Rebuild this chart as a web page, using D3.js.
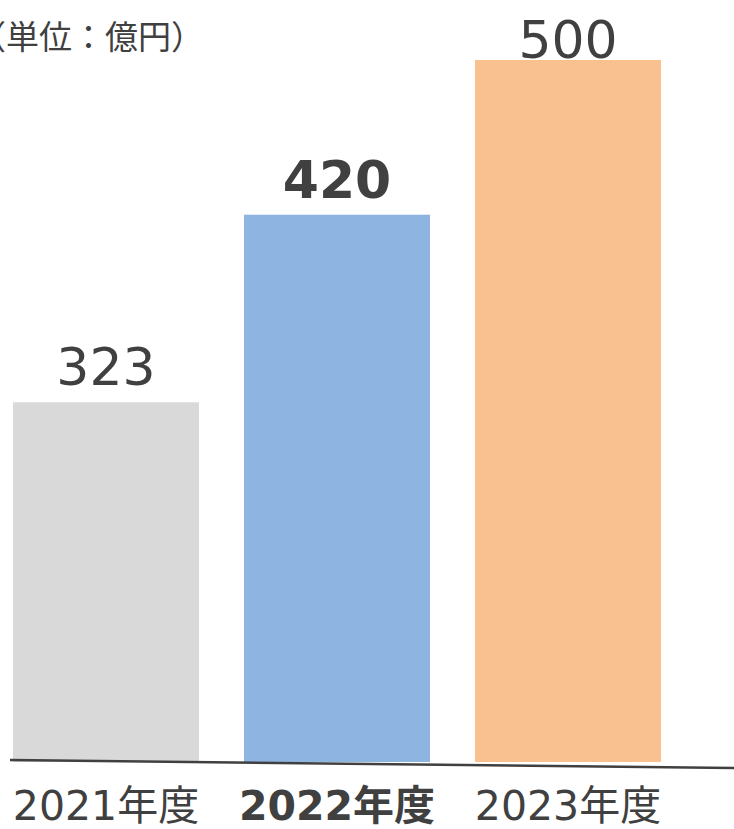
<!DOCTYPE html>
<meta charset="utf-8">
<style>
  body { margin: 0; background: #fff; }
  svg { display: block; }
  .lbl, .val { fill: #404040; font-family: "DejaVu Sans", "Noto Sans CJK JP", sans-serif; }
  .unit { fill: #404040; font-family: "Noto Sans CJK JP", sans-serif; font-size: 33px; }
</style>
<svg width="734" height="829"></svg>
<script src="https://cdn.jsdelivr.net/npm/d3@7"></script>
<script>
// data
var years = ["2021年度", "2022年度", "2023年度"];
var sales = [323, 420, 500];
var barColors = ["#d9d9d9", "#8eb4e2", "#f9c090"];
var focusYear = "2022年度";
var unitText = "（単位：億円）";

var svg = d3.select("svg");

var x = d3.scaleBand()
    .domain(years)
    .range([13, 661])
    .paddingInner(0.195)
    .paddingOuter(0);

// axis does not start at zero in the original slide
var y = d3.scaleLinear()
    .domain([137, 500])
    .range([762, 60]);

var rows = years.map(function(k, i) { return {year: k, value: sales[i], color: barColors[i]}; });

svg.append("g")
  .selectAll("rect")
  .data(rows)
  .enter().append("rect")
    .attr("x", function(d) { return x(d.year); })
    .attr("y", function(d) { return y(d.value); })
    .attr("width", x.bandwidth())
    .attr("height", function(d) { return y.range()[0] - y(d.value); })
    .attr("fill", function(d) { return d.color; });

// value labels, kept inside the frame at the top
svg.append("g")
  .selectAll("text")
  .data(rows)
  .enter().append("text")
    .attr("class", "val")
    .attr("x", function(d) { return x(d.year) + x.bandwidth() / 2; })
    .attr("y", function(d) { return Math.max(y(d.value) - 17, 58); })
    .attr("text-anchor", "middle")
    .attr("font-size", "52px")
    .attr("font-weight", function(d) { return d.year === focusYear ? "bold" : "normal"; })
    .text(function(d) { return d.value; });

// slightly tilted base line
var y0 = y.range()[0];
svg.append("line")
    .attr("x1", 10).attr("y1", y0 - 2)
    .attr("x2", 734).attr("y2", y0 + 6)
    .attr("stroke", "#404040")
    .attr("stroke-width", 2.5);

// category labels
svg.append("g")
  .selectAll("text")
  .data(rows)
  .enter().append("text")
    .attr("class", "lbl")
    .attr("x", function(d) { return x(d.year) + x.bandwidth() / 2; })
    .attr("y", 820)
    .attr("text-anchor", "middle")
    .attr("font-size", "41px")
    .attr("font-weight", function(d) { return d.year === focusYear ? "bold" : "normal"; })
    .text(function(d) { return d.year; });

svg.append("text")
    .attr("class", "unit")
    .attr("x", -27)
    .attr("y", 49)
    .text(unitText);
</script>
